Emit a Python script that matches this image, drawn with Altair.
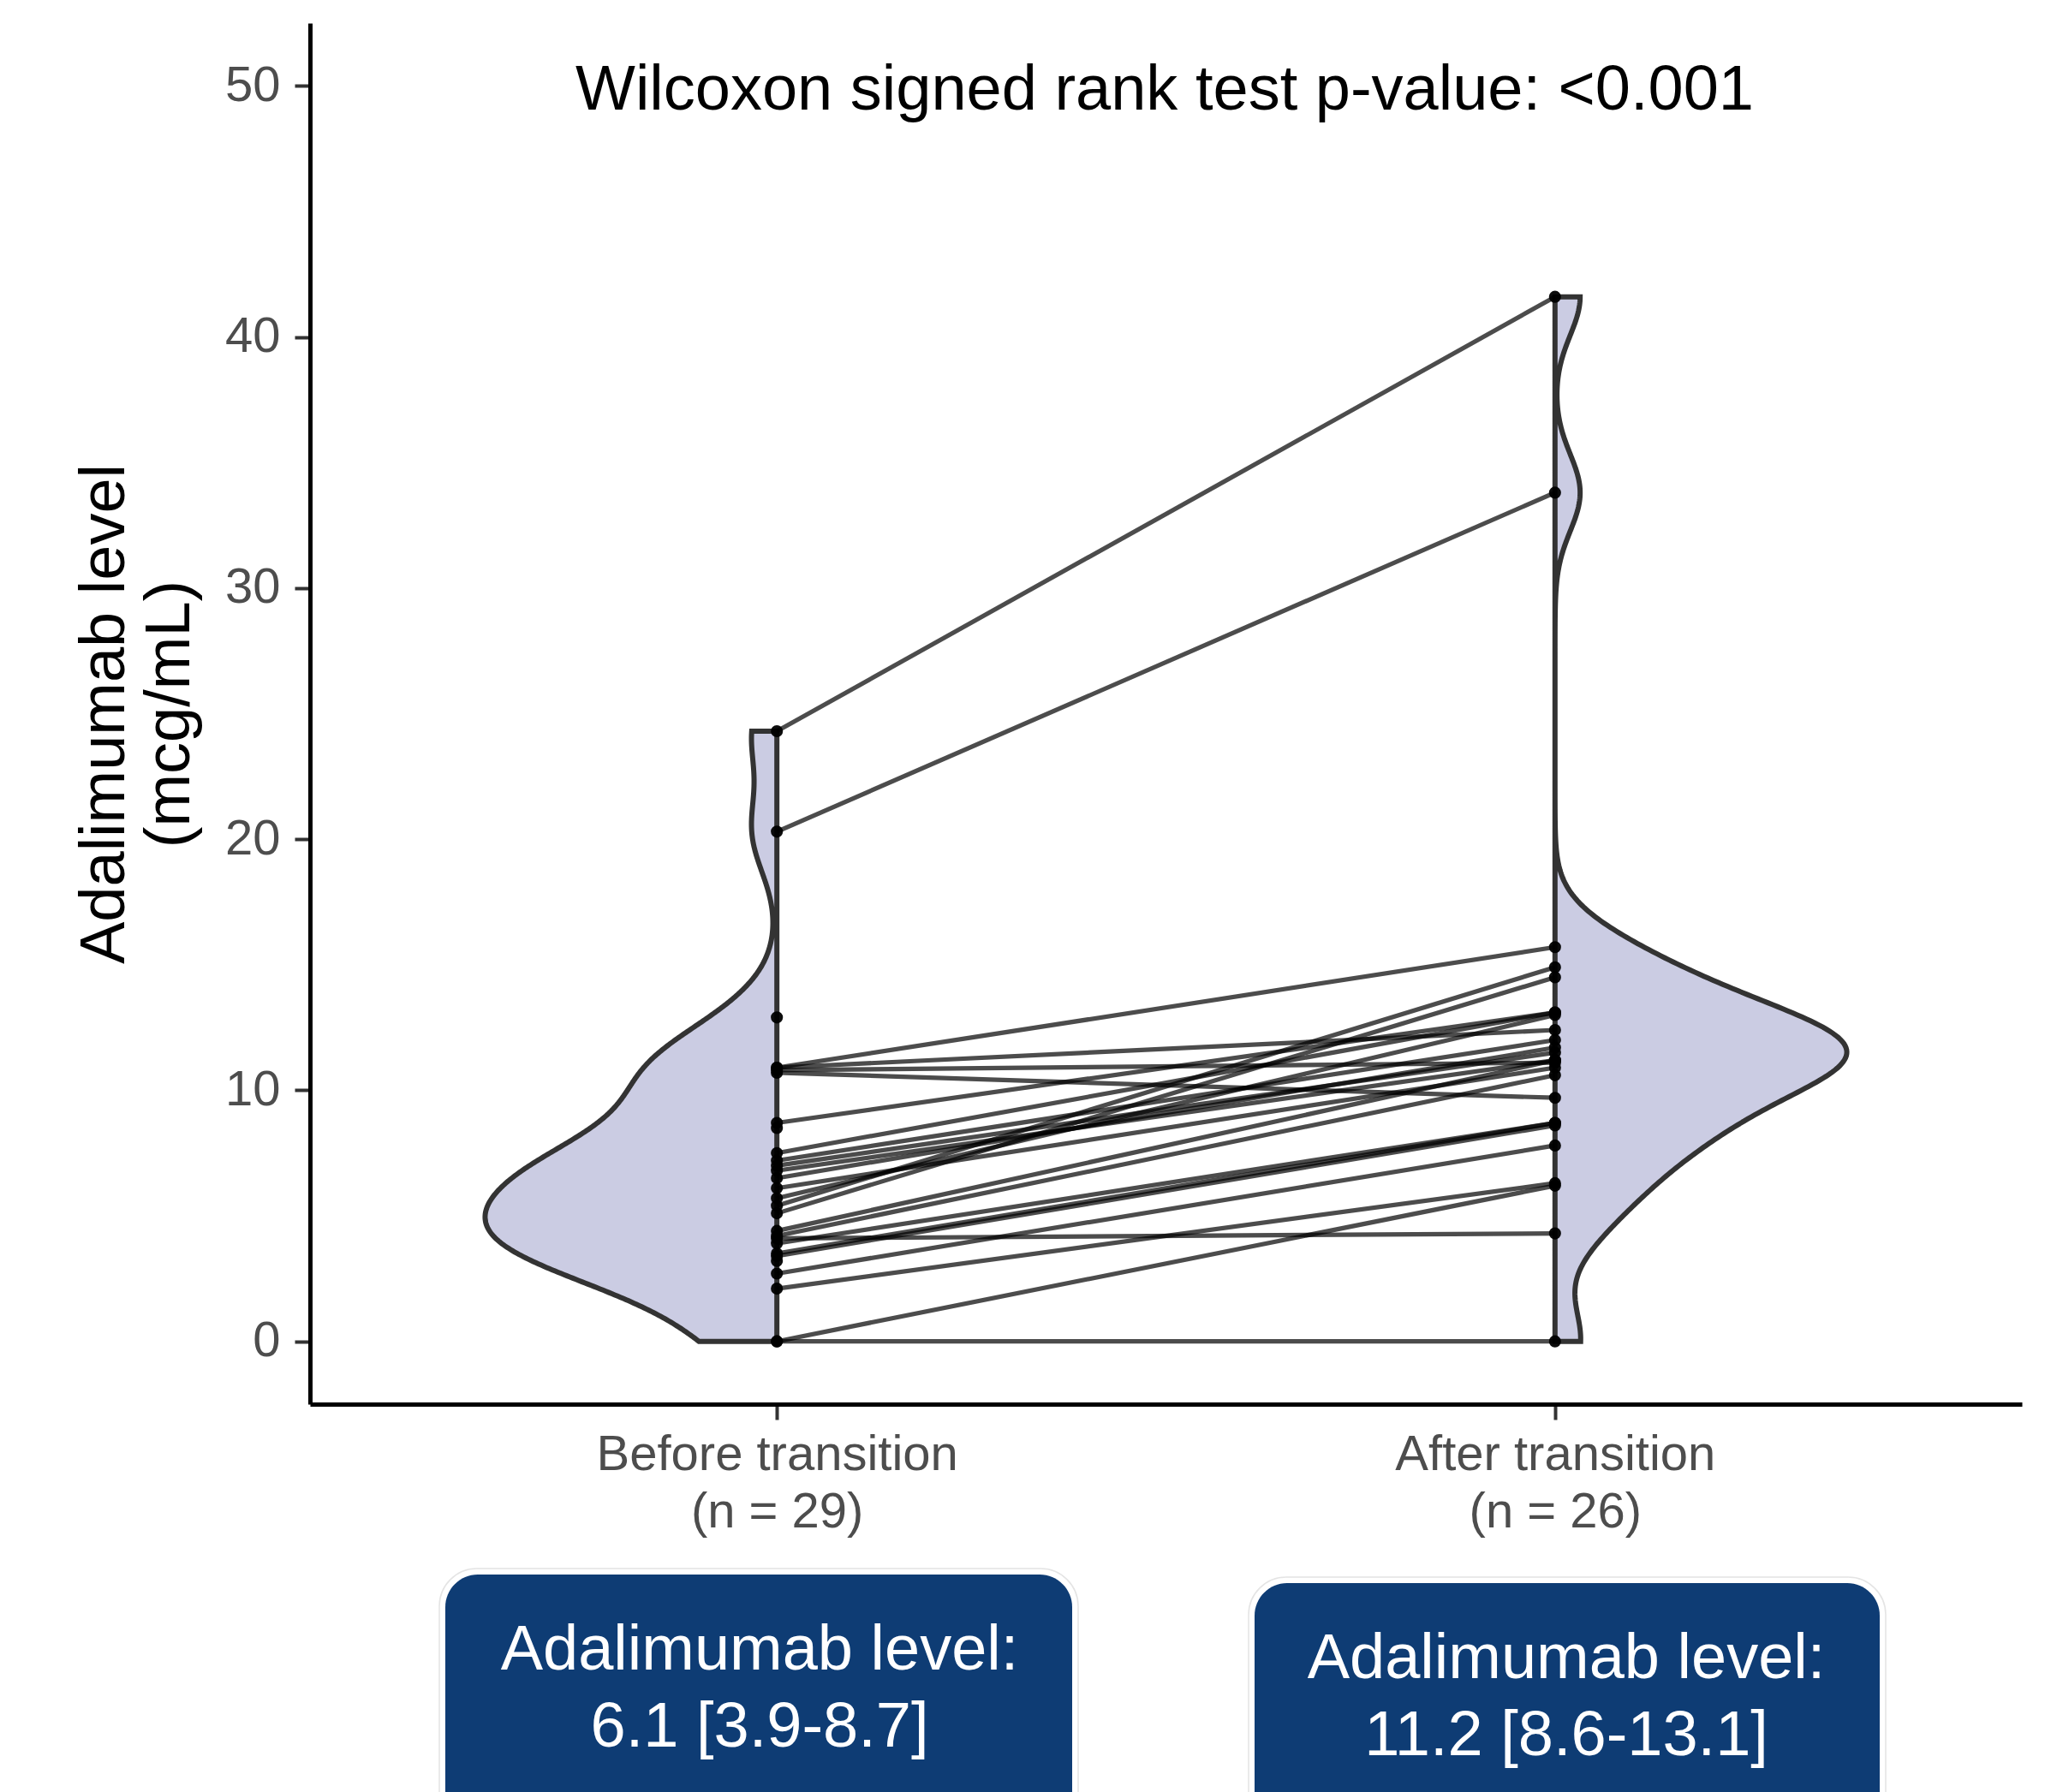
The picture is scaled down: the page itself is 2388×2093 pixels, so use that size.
import altair as alt
import pandas as pd
import numpy as np

# ---------------- data ----------------
categories = ["Before transition", "After transition"]
cat_pos = [1, 2]

# paired measurements (one line per patient)
before_paired = [24.3, 20.3, 10.9, 10.9, 10.8, 10.7, 8.7, 7.5, 7.2, 7.0,
                 6.8, 6.5, 6.1, 5.7, 5.4, 5.1, 4.4, 4.2, 4.1, 3.9,
                 3.5, 3.4, 2.7, 2.1, 0.0, 0.0]
after_paired = [41.6, 33.8, 15.7, 12.4, 11.1, 9.7, 13.1, 13.1, 12.0, 11.5,
                11.2, 11.7, 10.9, 13.0, 14.9, 14.5, 11.2, 10.6, 4.3, 8.7,
                8.7, 8.6, 7.8, 6.3, 6.2, 0.0]
# measurements without a partner
before_only = [12.9, 8.5, 3.2]
after_only = []

summary_labels = ["6.1 [3.9-8.7]", "11.2 [8.6-13.1]"]
y_ticks = [0, 10, 20, 30, 40, 50]
title_text = "Wilcoxon signed rank test p-value: <0.001"

before_all = before_paired + before_only
after_all = after_paired + after_only
n_labels = [f"(n = {len(before_all)})", f"(n = {len(after_all)})"]

# ---------------- styling ----------------
FONT = "Liberation Sans"
W, H = 1999, 1613
FILL = "#cbcce3"
OUTLINE = "#333333"
HALF = 0.375

xscale = alt.Scale(domain=[0.4, 2.6], nice=False, zero=False)
yscale = alt.Scale(domain=[-2.5, 52.5], nice=False, zero=False)

label_expr = (f"datum.value == {cat_pos[0]} ? ['{categories[0]}', '{n_labels[0]}'] : "
              f"['{categories[1]}', '{n_labels[1]}']")

xaxis = alt.Axis(values=cat_pos, labelExpr=label_expr, title=None, grid=False,
                 labelFont=FONT, labelFontSize=58, labelColor="#4d4d4d",
                 labelLineHeight=67, labelPadding=12, labelBaseline="top",
                 labelOverlap=False, labelFlush=False, labelLimit=2000,
                 tickSize=18, tickWidth=4, tickColor="#333333",
                 domainColor="black", domainWidth=5)
yaxis = alt.Axis(values=y_ticks, title=["Adalimumab level", "(mcg/mL)"], grid=False,
                 titleFont=FONT, titleFontSize=74, titleFontWeight="normal",
                 titleColor="black", titleLineHeight=76, titleAngle=270,
                 titleX=-240, titleY=H / 2, titleBaseline="middle", titleAlign="center",
                 labelFont=FONT, labelFontSize=58, labelColor="#4d4d4d",
                 labelPadding=17, labelFlush=False,
                 tickSize=18, tickWidth=4, tickColor="#333333",
                 domainColor="black", domainWidth=5)


def nrd0(vals):
    x = np.asarray(vals, dtype=float)
    sd = x.std(ddof=1)
    iqr = np.percentile(x, 75) - np.percentile(x, 25)
    lo = min(sd, iqr / 1.34)
    return 0.9 * lo * len(x) ** -0.2


def violin(vals, center, side):
    df = pd.DataFrame({"v": vals})
    return (
        alt.Chart(df)
        .transform_density("v", as_=["v", "density"], bandwidth=float(nrd0(vals)),
                           extent=[float(min(vals)), float(max(vals))], steps=512)
        .transform_joinaggregate(maxd="max(density)")
        .transform_calculate(xpos=f"{center} + ({side}) * {HALF} * datum.density / datum.maxd",
                             xbase=f"{center}")
        .mark_area(orient="horizontal", fill=FILL, stroke=OUTLINE, strokeWidth=6)
        .encode(y=alt.Y("v:Q", scale=yscale, axis=yaxis),
                x=alt.X("xpos:Q", scale=xscale, axis=xaxis),
                x2="xbase:Q")
    )


v_before = violin(before_all, cat_pos[0], -1)
v_after = violin(after_all, cat_pos[1], 1)

rows = []
for i, (b, a) in enumerate(zip(before_paired, after_paired)):
    rows.append({"pair": i, "x": cat_pos[0], "y": b})
    rows.append({"pair": i, "x": cat_pos[1], "y": a})
pairs_df = pd.DataFrame(rows)

lines = alt.Chart(pairs_df).mark_line(color="black", opacity=0.7, strokeWidth=5.2).encode(
    x=alt.X("x:Q", scale=xscale, axis=xaxis),
    y=alt.Y("y:Q", scale=yscale, axis=yaxis),
    detail="pair:N",
)

pts_df = pd.DataFrame({
    "x": [cat_pos[0]] * len(before_all) + [cat_pos[1]] * len(after_all),
    "y": before_all + after_all,
})
points = alt.Chart(pts_df).mark_circle(color="black", opacity=0.95, size=200).encode(
    x=alt.X("x:Q", scale=xscale, axis=xaxis),
    y=alt.Y("y:Q", scale=yscale, axis=yaxis),
)

title = alt.Chart(pd.DataFrame({"t": [title_text]})).mark_text(
    font=FONT, fontSize=74, color="black", align="center", baseline="alphabetic"
).encode(text="t:N", x=alt.value(998), y=alt.value(101))

# summary boxes below the axis (pixel positions relative to the plot area)
box_layers = []
box_geom = [  # x-left, x-right, top, text-center, first-baseline
    (158, 890, 1812, 525, 1923),
    (1103, 1833, 1822, 1467, 1933),
]
for (xl, xr, top, xc, base), lab in zip(box_geom, summary_labels):
    one = pd.DataFrame({"t": [f"Adalimumab level:\n{lab}"]})
    box_layers.append(alt.Chart(one).mark_rect(
        fill="white", stroke="#e4e4e4", strokeWidth=1.5, cornerRadius=44
    ).encode(x=alt.value(xl - 7), x2=alt.value(xr + 7), y=alt.value(top - 7), y2=alt.value(top + 500)))
    box_layers.append(alt.Chart(one).mark_rect(
        fill="#0e3c74", cornerRadius=38
    ).encode(x=alt.value(xl), x2=alt.value(xr), y=alt.value(top), y2=alt.value(top + 500)))
    box_layers.append(alt.Chart(one).mark_text(
        font=FONT, fontSize=74, color="white", align="center", baseline="alphabetic",
        lineBreak="\n", lineHeight=90
    ).encode(text="t:N", x=alt.value(xc), y=alt.value(base)))

chart = alt.layer(v_before, v_after, lines, points, title, *box_layers).properties(
    width=W, height=H,
    padding={"left": 362, "top": 27, "right": 27, "bottom": 453},
    autosize=alt.AutoSizeParams(type="none"),
    background="white",
).configure_view(stroke=None)

chart.save("out.html", embed_options={"renderer": "svg", "actions": False})
